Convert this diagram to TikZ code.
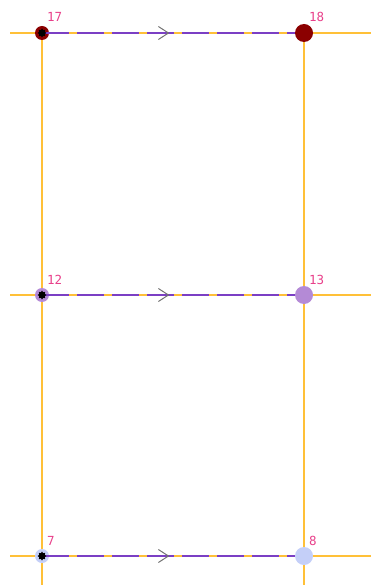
\documentclass[tikz,border=0pt]{standalone}
\usepackage{fontspec}
\setmonofont{DejaVu Sans Mono}
\usetikzlibrary{shapes.geometric,decorations.markings}
\definecolor{gridorange}{HTML}{FFC038}
\definecolor{edgepurple}{HTML}{7B3FC4}
\definecolor{lblpink}{HTML}{E8408A}
\definecolor{nred}{HTML}{8B0000}
\definecolor{npurple}{HTML}{B48AD6}
\definecolor{nblue}{HTML}{C4CFF8}
\tikzset{
  x=1pt, y=-1pt,
  gridline/.style={draw=gridorange, line width=1.3pt},
  smallnode/.style={circle, inner sep=0pt, minimum size=14pt},
  bignode/.style={circle, inner sep=0pt, minimum size=18pt},
  starmark/.style={star, star points=8, star point ratio=1.5, fill=black, inner sep=0pt, minimum size=9pt},
  lbl/.style={text=lblpink, font=\ttfamily\fontsize{12.5}{12.5}\selectfont, inner sep=0pt, anchor=base west},
  flowedge/.style={draw=edgepurple, line width=1.8pt, dash pattern=on 27pt off 8pt,
    postaction={decorate},
    decoration={markings, mark=at position 0.5 with {\draw[black!55, line width=1pt, solid] (-10,-6.5) -- (0,0) -- (-10,6.5);}}},
}
\begin{document}
\begin{tikzpicture}
\useasboundingbox (0,0) rectangle (371,585);
% grid lines
\coordinate (l17) at (10,33); \coordinate (r17) at (371,33);
\coordinate (l12) at (10,295); \coordinate (r12) at (371,295);
\coordinate (l7) at (10,556); \coordinate (r7) at (371,556);
\coordinate (bl) at (42,585); \coordinate (br) at (304,585);
\coordinate (tl) at (42,33); \coordinate (tr) at (304,33);
\draw[gridline] (l17) -- (r17);
\draw[gridline] (l12) -- (r12);
\draw[gridline] (l7) -- (r7);
\draw[gridline] (tl) -- (bl);
\draw[gridline] (tr) -- (br);
% nodes
\node[smallnode, fill=nred] (n17) at (42,33) {};
\node[bignode, fill=nred] (n18) at (304,33) {};
\node[smallnode, fill=npurple] (n12) at (42,295) {};
\node[bignode, fill=npurple] (n13) at (304,295) {};
\node[smallnode, fill=nblue] (n7) at (42,556) {};
\node[bignode, fill=nblue] (n8) at (304,556) {};
% edges
\draw[flowedge] (n17.center) -- (n18.west);
\draw[flowedge] (n12.center) -- (n13.west);
\draw[flowedge] (n7.center) -- (n8.west);
% markers
\node[starmark] (s17) at (n17) {};
\node[starmark] (s12) at (n12) {};
\node[starmark] (s7) at (n7) {};
% labels
\node[lbl] (t17) at (47,22) {17};
\node[lbl] (t18) at (309,22) {18};
\node[lbl] (t12) at (47,284) {12};
\node[lbl] (t13) at (309,284) {13};
\node[lbl] (t7) at (47,545) {7};
\node[lbl] (t8) at (309,545) {8};
\end{tikzpicture}
\end{document}
